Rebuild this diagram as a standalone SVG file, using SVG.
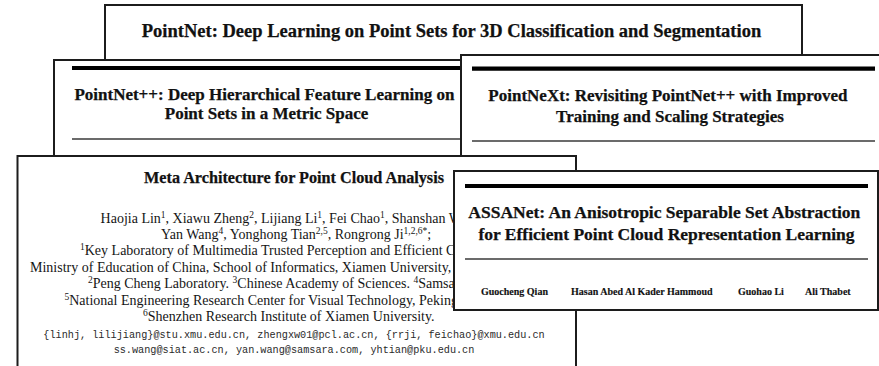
<svg xmlns="http://www.w3.org/2000/svg" width="879" height="366" viewBox="0 0 879 366">
  <style>
    .card { fill: #ffffff; stroke: #1c1c1c; stroke-width: 2; }
    .rule-thick { stroke: #000000; stroke-width: 4.2; }
    .rule-thin { stroke: #3a3a3a; stroke-width: 1.3; }
    .title { font-family: "Liberation Serif", "Times New Roman", serif; font-weight: bold; fill: #111111; stroke: #111111; stroke-width: 0.25; }
    .body { font-family: "Liberation Serif", "Times New Roman", serif; font-size: 14px; fill: #151515; }
    .mono { font-family: "Liberation Mono", "Courier New", monospace; font-size: 10.2px; fill: #2a2a2a; }
    .author { font-family: "Liberation Serif", "Times New Roman", serif; font-weight: bold; font-size: 10px; fill: #111111; stroke: #111111; stroke-width: 0.15; }
    .sup { font-size: 9.5px; }
  </style>
  <rect width="879" height="366" fill="#ffffff"/>

  <!-- PointNet -->
  <g id="pointnet">
    <rect class="card" x="105" y="5" width="697" height="60"/>
    <text class="title" x="451.5" y="37" font-size="18.5" text-anchor="middle">PointNet: Deep Learning on Point Sets for 3D Classification and Segmentation</text>
  </g>

  <!-- PointNet++ -->
  <g id="pointnet-pp">
    <rect class="card" x="54" y="60" width="430" height="110"/>
    <line class="rule-thick" x1="72" y1="68" x2="470" y2="68"/>
    <text class="title" font-size="17" text-anchor="middle">
      <tspan x="266.5" y="100">PointNet++: Deep Hierarchical Feature Learning on</tspan>
      <tspan x="266.5" y="119">Point Sets in a Metric Space</tspan>
    </text>
    <line class="rule-thin" x1="72" y1="139" x2="470" y2="139"/>
  </g>

  <!-- PointNeXt -->
  <g id="pointnext">
    <rect class="card" x="461" y="55" width="440" height="140"/>
    <line class="rule-thick" x1="472" y1="68.7" x2="875" y2="68.7"/>
    <text class="title" font-size="17" text-anchor="middle">
      <tspan x="670" y="100.5">PointNeXt: Revisiting PointNet++ with Improved</tspan>
      <tspan x="670" y="121.5">Training and Scaling Strategies</tspan>
    </text>
    <line class="rule-thin" x1="472" y1="141" x2="875" y2="141"/>
  </g>

  <!-- Meta Architecture -->
  <g id="meta-architecture">
    <rect class="card" x="17.5" y="156" width="558.5" height="230"/>
    <text class="title" x="294" y="183" font-size="16.2" text-anchor="middle">Meta Architecture for Point Cloud Analysis</text>
    <text class="body" x="100.6" y="222.5">Haojia Lin<tspan class="sup" baseline-shift="5">1</tspan>, Xiawu Zheng<tspan class="sup" baseline-shift="5">2</tspan>, Lijiang Li<tspan class="sup" baseline-shift="5">1</tspan>, Fei Chao<tspan class="sup" baseline-shift="5">1</tspan>, Shanshan W</text>
    <text class="body" x="161" y="239">Yan Wang<tspan class="sup" baseline-shift="5">4</tspan>, Yonghong Tian<tspan class="sup" baseline-shift="5">2,5</tspan>, Rongrong Ji<tspan class="sup" baseline-shift="5">1,2,6*</tspan>;</text>
    <text class="body" x="80" y="255.3"><tspan class="sup" baseline-shift="5">1</tspan>Key Laboratory of Multimedia Trusted Perception and Efficient Co</text>
    <text class="body" x="30" y="271.7">Ministry of Education of China, School of Informatics, Xiamen University, 3</text>
    <text class="body" x="88" y="288.2"><tspan class="sup" baseline-shift="5">2</tspan>Peng Cheng Laboratory. <tspan class="sup" baseline-shift="5">3</tspan>Chinese Academy of Sciences. <tspan class="sup" baseline-shift="5">4</tspan>Samsa</text>
    <text class="body" x="64.5" y="304.6"><tspan class="sup" baseline-shift="5">5</tspan>National Engineering Research Center for Visual Technology, Peking</text>
    <text class="body" x="143" y="321"><tspan class="sup" baseline-shift="5">6</tspan>Shenzhen Research Institute of Xiamen University.</text>
    <text class="mono" x="294" y="337.5" text-anchor="middle">{linhj, lilijiang}@stu.xmu.edu.cn, zhengxw01@pcl.ac.cn, {rrji, feichao}@xmu.edu.cn</text>
    <text class="mono" x="294" y="352.5" text-anchor="middle">ss.wang@siat.ac.cn, yan.wang@samsara.com, yhtian@pku.edu.cn</text>
  </g>

  <!-- ASSANet -->
  <g id="assanet">
    <rect class="card" x="454" y="171" width="424" height="139"/>
    <line class="rule-thick" x1="465" y1="186" x2="868" y2="186"/>
    <text class="title" font-size="17.5" text-anchor="middle">
      <tspan x="666.5" y="218">ASSANet: An Anisotropic Separable Set Abstraction</tspan>
      <tspan x="666.5" y="239.5">for Efficient Point Cloud Representation Learning</tspan>
    </text>
    <line class="rule-thin" x1="465" y1="259" x2="868" y2="259"/>
    <text class="author" y="295">
      <tspan x="481">Guocheng Qian</tspan>
      <tspan x="571">Hasan Abed Al Kader Hammoud</tspan>
      <tspan x="738">Guohao Li</tspan>
      <tspan x="805">Ali Thabet</tspan>
    </text>
  </g>
</svg>
